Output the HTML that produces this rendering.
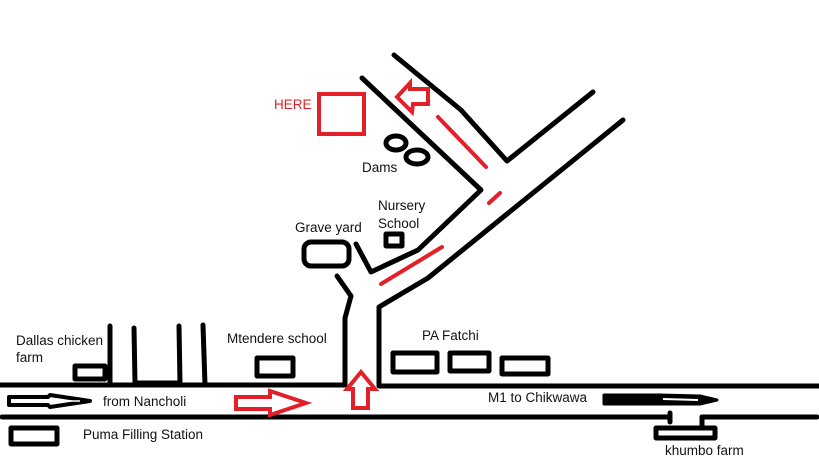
<!DOCTYPE html>
<html><head><meta charset="utf-8"><style>
html,body{margin:0;padding:0;background:#fff;}
svg{display:block}
text{font-family:"Liberation Sans",sans-serif;font-size:13.5px;fill:#111}
</style></head><body>
<svg width="819" height="460" viewBox="0 0 819 460" xmlns="http://www.w3.org/2000/svg">
<g fill="none" stroke="#000" stroke-width="5" stroke-linecap="round" stroke-linejoin="round">
<polyline points="0,385 345,385 345,318 351,296 337,276"/>
<polyline points="819,386 379,386 379,307 428,278 623,120"/>
<line x1="2" y1="417" x2="670" y2="417"/>
<line x1="702" y1="417" x2="817" y2="417"/>
<line x1="670" y1="413" x2="670" y2="422"/>
<line x1="702" y1="417" x2="702" y2="427"/>
<line x1="110" y1="326" x2="110" y2="385"/>
<polyline points="134,328 135,383 180,383 179,326"/>
<polyline points="203,325 205,385"/>
<polyline points="356,244 371,272 418,250 481,190 362,78"/>
<polyline points="394,55 461,110 507,161 593,92"/>
<rect x="75" y="366" width="30" height="13"/>
<rect x="257" y="358" width="36" height="18"/>
<rect x="11" y="428" width="46" height="16"/>
<rect x="393" y="353" width="44" height="19"/>
<rect x="450" y="353" width="39" height="18"/>
<rect x="502" y="358" width="46" height="16"/>
<rect x="656" y="428" width="59" height="10"/>
<rect x="386" y="234" width="16" height="12"/>
<rect x="304" y="242" width="45" height="24" rx="7"/>
<ellipse cx="396" cy="143" rx="10" ry="7"/>
<ellipse cx="417" cy="157" rx="11" ry="7"/>
<path d="M9,397 L48,397 L50,395 L90,401 L50,407 L48,405 L9,405 Z" stroke-width="4"/>
</g>
<line x1="12" y1="401" x2="80" y2="401" stroke="#fff" stroke-width="1.5"/>
<path d="M604,395 L660,395 L700,396 L717,400 L700,404 L604,404 Z" fill="#000" stroke="#000" stroke-width="3" stroke-linejoin="round"/>
<line x1="663" y1="399" x2="698" y2="400" stroke="#fff" stroke-width="2"/>
<g fill="none" stroke="#e3202a" stroke-width="4" stroke-linecap="round" stroke-linejoin="miter">
<rect x="319" y="94" width="45" height="40"/>
<line x1="438" y1="117" x2="486" y2="167"/>
<line x1="489" y1="203" x2="500" y2="193"/>
<line x1="381" y1="284" x2="442" y2="247"/>
<path d="M397,97 L410,83 L410,89 L428,89 L428,104 L413,104 L412,112 Z"/>
<path d="M236,397 L270,397 L270,391 L306,403 L270,415 L270,409 L236,409 Z"/>
<path d="M361,372 L375,389 L368,389 L368,408 L353,408 L353,389 L347,389 Z"/>
</g>
<text x="274" y="109" style="fill:#e3202a">HERE</text>
<text x="362" y="172">Dams</text>
<text x="378" y="210">Nursery</text>
<text x="378" y="228">School</text>
<text x="295" y="232">Grave yard</text>
<text x="16" y="345">Dallas chicken</text>
<text x="16" y="362">farm</text>
<text x="227" y="343">Mtendere school</text>
<text x="422" y="340">PA Fatchi</text>
<text x="103" y="406">from Nancholi</text>
<text x="83" y="439">Puma Filling Station</text>
<text x="488" y="402">M1 to Chikwawa</text>
<text x="665" y="455">khumbo farm</text>
</svg>
</body></html>
